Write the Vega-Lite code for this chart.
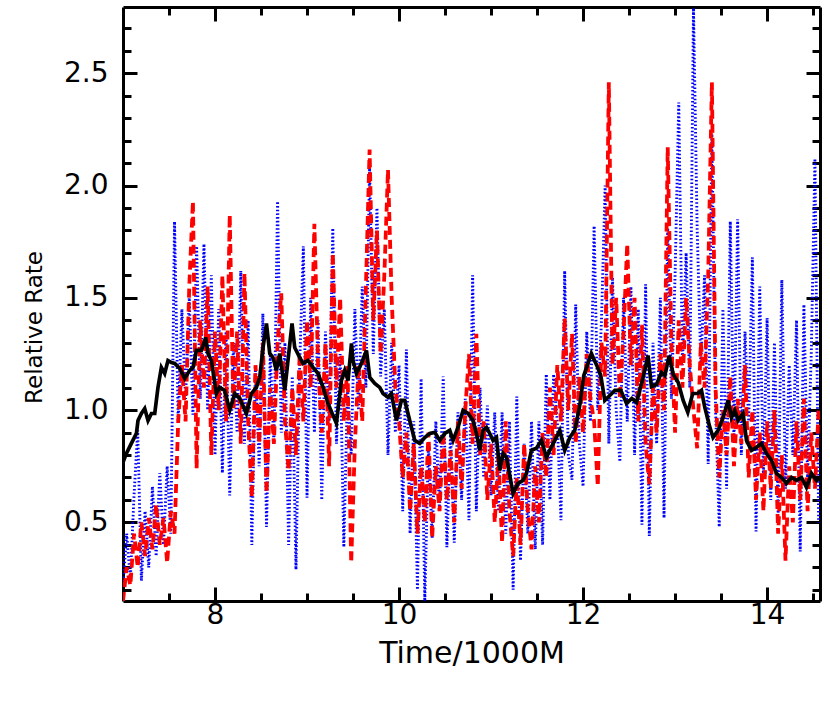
{
  "$schema": "https://vega.github.io/schema/vega-lite/v6.json",
  "width": 697,
  "height": 594,
  "autosize": {"type": "none"},
  "padding": {"left": 123, "top": 7, "right": 10, "bottom": 126},
  "background": "white",
  "config": {"view": {"stroke": null}},
  "datasets": {
    "noisy": [
{"t":7.00,"r":0.15,"b":0.22},{"t":7.04,"r":0.30,"b":0.45},{"t":7.08,"r":0.22,"b":0.25},{"t":7.12,"r":0.45,"b":0.62},{"t":7.16,"r":0.30,"b":0.91},{"t":7.20,"r":0.50,"b":0.24},{"t":7.24,"r":0.35,"b":0.55},{"t":7.28,"r":0.52,"b":0.30},{"t":7.32,"r":0.38,"b":0.66},{"t":7.36,"r":0.58,"b":0.35},{"t":7.40,"r":0.40,"b":0.72},{"t":7.44,"r":0.52,"b":0.40},{"t":7.48,"r":0.32,"b":0.75},{"t":7.52,"r":0.55,"b":0.45},{"t":7.56,"r":0.45,"b":1.84},{"t":7.60,"r":0.95,"b":0.95},{"t":7.64,"r":1.20,"b":1.45},{"t":7.68,"r":0.95,"b":1.05},{"t":7.72,"r":1.55,"b":1.50},{"t":7.76,"r":1.93,"b":0.98},{"t":7.80,"r":0.74,"b":1.73},{"t":7.84,"r":1.40,"b":1.05},{"t":7.88,"r":1.10,"b":1.74},{"t":7.92,"r":1.55,"b":1.00},{"t":7.96,"r":0.80,"b":1.60},{"t":8.00,"r":1.35,"b":0.80},{"t":8.04,"r":1.00,"b":1.45},{"t":8.08,"r":1.60,"b":0.72},{"t":8.12,"r":0.95,"b":1.35},{"t":8.16,"r":1.87,"b":0.62},{"t":8.20,"r":1.00,"b":1.30},{"t":8.24,"r":1.35,"b":0.90},{"t":8.28,"r":0.85,"b":1.62},{"t":8.32,"r":1.61,"b":0.85},{"t":8.36,"r":0.95,"b":1.40},{"t":8.40,"r":0.61,"b":0.40},{"t":8.44,"r":1.20,"b":1.20},{"t":8.48,"r":0.85,"b":0.75},{"t":8.52,"r":1.30,"b":1.43},{"t":8.56,"r":0.63,"b":0.48},{"t":8.60,"r":1.10,"b":1.25},{"t":8.64,"r":0.85,"b":0.85},{"t":8.68,"r":1.30,"b":1.93},{"t":8.72,"r":1.52,"b":0.90},{"t":8.76,"r":0.95,"b":1.30},{"t":8.80,"r":0.73,"b":0.40},{"t":8.84,"r":1.10,"b":1.15},{"t":8.88,"r":0.80,"b":0.29},{"t":8.92,"r":1.25,"b":1.20},{"t":8.96,"r":0.95,"b":1.73},{"t":9.00,"r":1.40,"b":0.61},{"t":9.04,"r":1.10,"b":1.50},{"t":9.08,"r":1.83,"b":0.90},{"t":9.12,"r":1.20,"b":1.40},{"t":9.16,"r":0.90,"b":0.60},{"t":9.20,"r":1.30,"b":1.35},{"t":9.24,"r":0.75,"b":0.95},{"t":9.28,"r":1.70,"b":1.81},{"t":9.32,"r":1.10,"b":0.85},{"t":9.36,"r":1.50,"b":1.25},{"t":9.40,"r":0.95,"b":0.39},{"t":9.44,"r":1.20,"b":1.10},{"t":9.48,"r":0.32,"b":0.80},{"t":9.52,"r":0.85,"b":1.45},{"t":9.56,"r":1.20,"b":1.00},{"t":9.60,"r":0.95,"b":1.55},{"t":9.64,"r":1.55,"b":1.10},{"t":9.68,"r":2.16,"b":2.08},{"t":9.72,"r":1.40,"b":1.25},{"t":9.76,"r":1.80,"b":1.90},{"t":9.80,"r":1.25,"b":1.15},{"t":9.84,"r":1.60,"b":1.45},{"t":9.88,"r":2.07,"b":0.80},{"t":9.92,"r":1.50,"b":1.30},{"t":9.96,"r":1.10,"b":0.90},{"t":10.00,"r":0.95,"b":1.20},{"t":10.04,"r":0.70,"b":0.55},{"t":10.08,"r":0.90,"b":1.27},{"t":10.12,"r":0.55,"b":0.45},{"t":10.16,"r":0.85,"b":0.95},{"t":10.20,"r":0.45,"b":0.20},{"t":10.24,"r":0.75,"b":1.14},{"t":10.28,"r":0.50,"b":0.15},{"t":10.32,"r":0.90,"b":0.85},{"t":10.36,"r":0.43,"b":0.43},{"t":10.40,"r":0.75,"b":0.95},{"t":10.44,"r":0.55,"b":0.55},{"t":10.48,"r":0.90,"b":1.15},{"t":10.52,"r":0.60,"b":0.39},{"t":10.56,"r":0.82,"b":0.90},{"t":10.60,"r":0.50,"b":0.41},{"t":10.64,"r":0.95,"b":0.99},{"t":10.68,"r":0.65,"b":0.60},{"t":10.72,"r":1.00,"b":1.05},{"t":10.76,"r":1.25,"b":0.51},{"t":10.80,"r":0.85,"b":1.60},{"t":10.84,"r":1.34,"b":0.55},{"t":10.88,"r":0.80,"b":1.10},{"t":10.92,"r":0.95,"b":0.70},{"t":10.96,"r":0.60,"b":1.02},{"t":11.00,"r":0.85,"b":0.62},{"t":11.04,"r":0.50,"b":0.99},{"t":11.08,"r":0.80,"b":0.55},{"t":11.12,"r":0.41,"b":0.99},{"t":11.16,"r":0.95,"b":0.45},{"t":11.20,"r":0.55,"b":0.95},{"t":11.24,"r":0.35,"b":0.20},{"t":11.28,"r":0.70,"b":1.06},{"t":11.32,"r":0.40,"b":0.33},{"t":11.36,"r":0.85,"b":0.85},{"t":11.40,"r":0.55,"b":0.45},{"t":11.44,"r":0.38,"b":0.95},{"t":11.48,"r":0.75,"b":0.38},{"t":11.52,"r":0.50,"b":0.95},{"t":11.56,"r":0.90,"b":0.40},{"t":11.60,"r":0.70,"b":1.16},{"t":11.64,"r":1.10,"b":0.60},{"t":11.68,"r":0.80,"b":1.16},{"t":11.72,"r":1.20,"b":0.95},{"t":11.76,"r":0.95,"b":0.51},{"t":11.80,"r":1.41,"b":1.62},{"t":11.84,"r":1.00,"b":0.80},{"t":11.88,"r":1.34,"b":0.69},{"t":11.92,"r":0.85,"b":1.47},{"t":11.96,"r":1.15,"b":0.85},{"t":12.00,"r":0.90,"b":0.66},{"t":12.04,"r":1.25,"b":1.35},{"t":12.08,"r":1.05,"b":0.95},{"t":12.12,"r":0.95,"b":1.82},{"t":12.16,"r":0.66,"b":1.00},{"t":12.20,"r":1.30,"b":1.40},{"t":12.24,"r":1.15,"b":2.00},{"t":12.28,"r":2.46,"b":0.85},{"t":12.32,"r":1.20,"b":1.59},{"t":12.36,"r":1.50,"b":1.00},{"t":12.40,"r":1.05,"b":0.77},{"t":12.44,"r":1.35,"b":1.50},{"t":12.48,"r":1.74,"b":0.95},{"t":12.52,"r":1.20,"b":1.55},{"t":12.56,"r":1.50,"b":0.80},{"t":12.60,"r":0.95,"b":1.45},{"t":12.64,"r":1.38,"b":0.49},{"t":12.68,"r":0.85,"b":1.56},{"t":12.72,"r":0.67,"b":0.44},{"t":12.76,"r":1.10,"b":1.30},{"t":12.80,"r":0.90,"b":0.85},{"t":12.84,"r":1.25,"b":1.50},{"t":12.88,"r":1.00,"b":0.52},{"t":12.92,"r":2.17,"b":1.81},{"t":12.96,"r":1.30,"b":1.05},{"t":13.00,"r":0.90,"b":1.60},{"t":13.04,"r":1.40,"b":2.37},{"t":13.08,"r":1.10,"b":1.20},{"t":13.12,"r":1.50,"b":1.70},{"t":13.16,"r":1.20,"b":1.10},{"t":13.20,"r":1.00,"b":2.79},{"t":13.24,"r":0.83,"b":1.81},{"t":13.28,"r":1.30,"b":1.20},{"t":13.32,"r":1.10,"b":1.60},{"t":13.36,"r":1.60,"b":0.76},{"t":13.40,"r":2.46,"b":2.23},{"t":13.44,"r":1.10,"b":1.00},{"t":13.48,"r":0.70,"b":0.48},{"t":13.52,"r":1.00,"b":1.45},{"t":13.56,"r":0.80,"b":0.65},{"t":13.60,"r":1.15,"b":1.84},{"t":13.64,"r":0.75,"b":0.85},{"t":13.68,"r":1.05,"b":1.85},{"t":13.72,"r":0.85,"b":0.80},{"t":13.76,"r":1.20,"b":1.35},{"t":13.80,"r":0.70,"b":0.95},{"t":13.84,"r":1.00,"b":1.68},{"t":13.88,"r":0.60,"b":0.46},{"t":13.92,"r":0.90,"b":1.55},{"t":13.96,"r":0.55,"b":0.70},{"t":14.00,"r":0.95,"b":1.41},{"t":14.04,"r":0.65,"b":0.60},{"t":14.08,"r":1.00,"b":1.30},{"t":14.12,"r":0.45,"b":0.54},{"t":14.16,"r":0.80,"b":1.58},{"t":14.20,"r":0.33,"b":0.65},{"t":14.24,"r":0.75,"b":1.20},{"t":14.28,"r":0.50,"b":0.80},{"t":14.32,"r":0.95,"b":1.40},{"t":14.36,"r":0.60,"b":0.37},{"t":14.40,"r":1.05,"b":1.47},{"t":14.44,"r":0.55,"b":0.70},{"t":14.48,"r":0.90,"b":1.25},{"t":14.52,"r":0.65,"b":2.12},{"t":14.56,"r":1.00,"b":0.50}
    ],
    "smooth": [
{"t":7.000,"v":0.767},{"t":7.037,"v":0.807},{"t":7.091,"v":0.852},{"t":7.146,"v":0.896},{"t":7.163,"v":0.954},{"t":7.200,"v":0.985},{"t":7.236,"v":1.007},{"t":7.272,"v":0.954},{"t":7.309,"v":0.985},{"t":7.345,"v":0.985},{"t":7.380,"v":1.101},{"t":7.417,"v":1.190},{"t":7.453,"v":1.163},{"t":7.489,"v":1.221},{"t":7.526,"v":1.212},{"t":7.562,"v":1.208},{"t":7.616,"v":1.186},{"t":7.671,"v":1.141},{"t":7.725,"v":1.177},{"t":7.761,"v":1.190},{"t":7.798,"v":1.266},{"t":7.852,"v":1.266},{"t":7.899,"v":1.323},{"t":7.924,"v":1.252},{"t":7.961,"v":1.221},{"t":8.015,"v":1.074},{"t":8.051,"v":1.101},{"t":8.105,"v":1.088},{"t":8.160,"v":0.999},{"t":8.214,"v":1.074},{"t":8.269,"v":1.052},{"t":8.341,"v":0.985},{"t":8.396,"v":1.074},{"t":8.450,"v":1.101},{"t":8.486,"v":1.145},{"t":8.522,"v":1.279},{"t":8.559,"v":1.386},{"t":8.595,"v":1.252},{"t":8.630,"v":1.234},{"t":8.667,"v":1.177},{"t":8.703,"v":1.252},{"t":8.758,"v":1.088},{"t":8.793,"v":1.221},{"t":8.837,"v":1.386},{"t":8.866,"v":1.279},{"t":8.921,"v":1.234},{"t":8.957,"v":1.208},{"t":9.011,"v":1.221},{"t":9.065,"v":1.190},{"t":9.120,"v":1.163},{"t":9.174,"v":1.101},{"t":9.228,"v":1.030},{"t":9.319,"v":0.941},{"t":9.374,"v":1.132},{"t":9.410,"v":1.177},{"t":9.446,"v":1.132},{"t":9.483,"v":1.297},{"t":9.500,"v":1.221},{"t":9.537,"v":1.163},{"t":9.591,"v":1.208},{"t":9.646,"v":1.266},{"t":9.682,"v":1.145},{"t":9.736,"v":1.119},{"t":9.790,"v":1.101},{"t":9.826,"v":1.074},{"t":9.880,"v":1.057},{"t":9.917,"v":1.074},{"t":9.972,"v":0.954},{"t":10.026,"v":1.043},{"t":10.062,"v":1.043},{"t":10.116,"v":0.954},{"t":10.171,"v":0.865},{"t":10.225,"v":0.852},{"t":10.279,"v":0.878},{"t":10.334,"v":0.896},{"t":10.388,"v":0.901},{"t":10.443,"v":0.865},{"t":10.497,"v":0.896},{"t":10.551,"v":0.910},{"t":10.587,"v":0.865},{"t":10.641,"v":0.923},{"t":10.696,"v":0.999},{"t":10.750,"v":0.985},{"t":10.804,"v":0.954},{"t":10.841,"v":0.896},{"t":10.877,"v":0.821},{"t":10.913,"v":0.910},{"t":10.950,"v":0.923},{"t":10.986,"v":0.896},{"t":11.022,"v":0.865},{"t":11.059,"v":0.878},{"t":11.095,"v":0.732},{"t":11.131,"v":0.807},{"t":11.168,"v":0.789},{"t":11.239,"v":0.629},{"t":11.293,"v":0.674},{"t":11.348,"v":0.687},{"t":11.385,"v":0.718},{"t":11.439,"v":0.821},{"t":11.493,"v":0.830},{"t":11.548,"v":0.865},{"t":11.602,"v":0.789},{"t":11.638,"v":0.821},{"t":11.693,"v":0.865},{"t":11.747,"v":0.910},{"t":11.801,"v":0.821},{"t":11.855,"v":0.878},{"t":11.910,"v":0.910},{"t":11.964,"v":1.021},{"t":12.008,"v":1.154},{"t":12.090,"v":1.252},{"t":12.149,"v":1.199},{"t":12.192,"v":1.155},{"t":12.236,"v":1.043},{"t":12.290,"v":1.065},{"t":12.345,"v":1.088},{"t":12.410,"v":1.088},{"t":12.472,"v":1.030},{"t":12.530,"v":1.052},{"t":12.581,"v":1.034},{"t":12.652,"v":1.145},{"t":12.706,"v":1.243},{"t":12.743,"v":1.105},{"t":12.798,"v":1.114},{"t":12.852,"v":1.168},{"t":12.889,"v":1.154},{"t":12.936,"v":1.243},{"t":12.980,"v":1.159},{"t":13.034,"v":1.123},{"t":13.088,"v":1.043},{"t":13.138,"v":0.990},{"t":13.192,"v":1.074},{"t":13.247,"v":1.074},{"t":13.287,"v":1.088},{"t":13.323,"v":1.012},{"t":13.378,"v":0.923},{"t":13.413,"v":0.878},{"t":13.468,"v":0.910},{"t":13.522,"v":0.967},{"t":13.576,"v":1.043},{"t":13.613,"v":0.967},{"t":13.649,"v":0.999},{"t":13.685,"v":0.954},{"t":13.739,"v":0.985},{"t":13.776,"v":0.865},{"t":13.830,"v":0.821},{"t":13.885,"v":0.834},{"t":13.939,"v":0.852},{"t":13.994,"v":0.807},{"t":14.048,"v":0.776},{"t":14.102,"v":0.718},{"t":14.157,"v":0.700},{"t":14.211,"v":0.674},{"t":14.265,"v":0.700},{"t":14.320,"v":0.687},{"t":14.374,"v":0.700},{"t":14.428,"v":0.656},{"t":14.483,"v":0.718},{"t":14.537,"v":0.687},{"t":14.573,"v":0.700}
    ]
  },
  "resolve": {"axis": {"x": "independent", "y": "independent"}},
  "layer": [
    {
      "data": {"name": "noisy"},
      "mark": {"type": "line", "color": "#0000ff", "strokeWidth": 2.9, "strokeDash": [1.5, 2.2], "clip": true},
      "encoding": {
        "x": {"field": "t", "type": "quantitative", "scale": {"domain": [7, 14.575], "nice": false, "zero": false},
          "axis": {"orient": "bottom", "values": [8, 10, 12, 14], "format": "d", "grid": false, "domain": true, "domainColor": "black", "domainWidth": 3, "tickColor": "black", "tickWidth": 3, "tickSize": -14, "labelFont": "DejaVu Sans", "labelFontSize": 28, "labelColor": "black", "labelPadding": 14, "labelFlush": false, "labelOverlap": false, "title": "Time/1000M", "titleFont": "DejaVu Sans", "titleFontSize": 30, "titleFontWeight": "normal", "titleColor": "black", "titlePadding": 9}},
        "y": {"field": "b", "type": "quantitative", "scale": {"domain": [0.15, 2.795], "nice": false, "zero": false},
          "axis": {"orient": "left", "values": [0.5, 1.0, 1.5, 2.0, 2.5], "format": ".1f", "grid": false, "domain": true, "domainColor": "black", "domainWidth": 3, "tickColor": "black", "tickWidth": 3, "tickSize": -14, "labelFont": "DejaVu Sans", "labelFontSize": 28, "labelColor": "black", "labelPadding": 29, "labelFlush": false, "labelOverlap": false, "title": "Relative Rate", "titleFont": "DejaVu Sans", "titleFontSize": 23, "titleFontWeight": "normal", "titleColor": "black", "titlePadding": 17, "titleY": 320}}
      }
    },
    {
      "data": {"name": "noisy"},
      "mark": {"type": "line", "color": "#ff0000", "strokeWidth": 3.8, "strokeDash": [9, 5], "clip": true},
      "encoding": {
        "x": {"field": "t", "type": "quantitative",
          "axis": {"orient": "top", "values": [8, 10, 12, 14], "grid": false, "domain": true, "domainColor": "black", "domainWidth": 3, "tickColor": "black", "tickWidth": 3, "tickSize": -14, "labels": false, "title": null}},
        "y": {"field": "r", "type": "quantitative",
          "axis": {"orient": "right", "values": [0.5, 1.0, 1.5, 2.0, 2.5], "grid": false, "domain": true, "domainColor": "black", "domainWidth": 3, "tickColor": "black", "tickWidth": 3, "tickSize": -14, "labels": false, "title": null}}
      }
    },
    {
      "data": {"name": "smooth"},
      "mark": {"type": "line", "color": "black", "strokeWidth": 3.7, "clip": true},
      "encoding": {
        "x": {"field": "t", "type": "quantitative",
          "axis": {"orient": "bottom", "values": [7.5, 8.5, 9, 9.5, 10.5, 11, 11.5, 12.5, 13, 13.5, 14.5], "grid": false, "domain": false, "tickColor": "black", "tickWidth": 3, "tickSize": -8, "labels": false, "title": null}},
        "y": {"field": "v", "type": "quantitative",
          "axis": {"orient": "left", "values": [0.2, 0.3, 0.4, 0.6, 0.7, 0.8, 0.9, 1.1, 1.2, 1.3, 1.4, 1.6, 1.7, 1.8, 1.9, 2.1, 2.2, 2.3, 2.4, 2.6, 2.7], "grid": false, "domain": false, "tickColor": "black", "tickWidth": 3, "tickSize": -8, "labels": false, "title": null}}
      }
    },
    {
      "data": {"name": "smooth"},
      "mark": {"type": "point", "opacity": 0, "clip": true},
      "encoding": {
        "x": {"field": "t", "type": "quantitative",
          "axis": {"orient": "top", "values": [7.5, 8.5, 9, 9.5, 10.5, 11, 11.5, 12.5, 13, 13.5, 14.5], "grid": false, "domain": false, "tickColor": "black", "tickWidth": 3, "tickSize": -8, "labels": false, "title": null}},
        "y": {"field": "v", "type": "quantitative",
          "axis": {"orient": "right", "values": [0.2, 0.3, 0.4, 0.6, 0.7, 0.8, 0.9, 1.1, 1.2, 1.3, 1.4, 1.6, 1.7, 1.8, 1.9, 2.1, 2.2, 2.3, 2.4, 2.6, 2.7], "grid": false, "domain": false, "tickColor": "black", "tickWidth": 3, "tickSize": -8, "labels": false, "title": null}}
      }
    }
  ]
}
